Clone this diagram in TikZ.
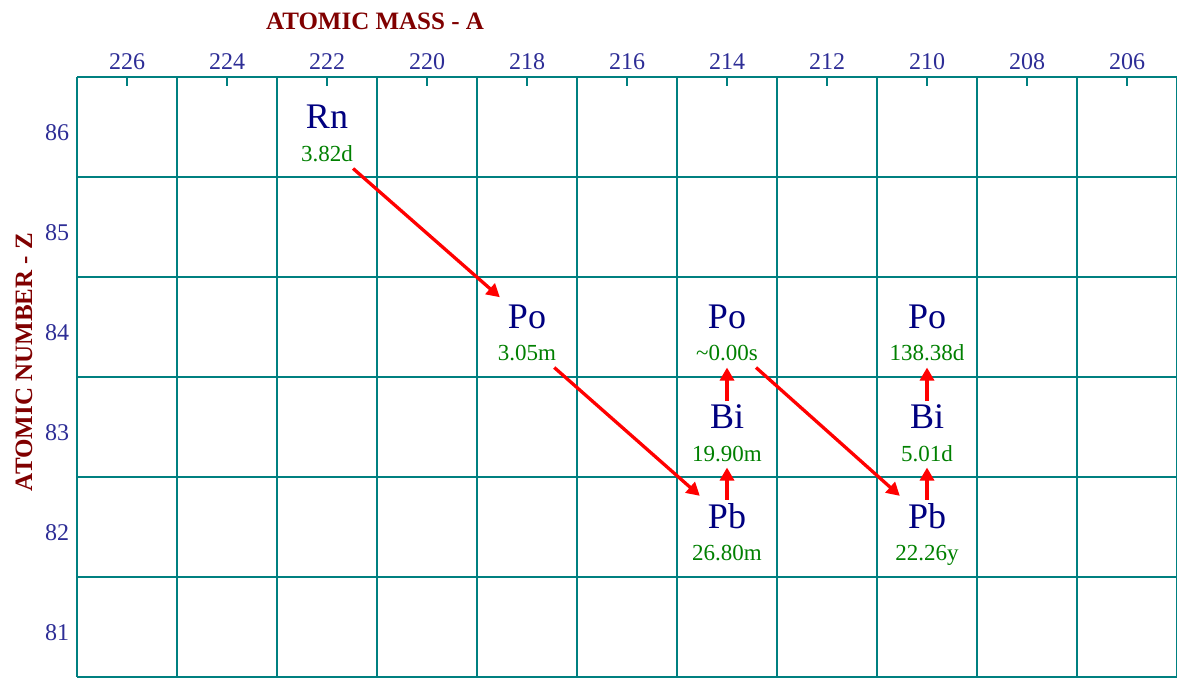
\documentclass[tikz,border=0pt]{standalone}
\usepackage{fontspec}
\setmainfont{Liberation Serif}
\usetikzlibrary{arrows.meta}
\definecolor{gridc}{RGB}{0,128,128}
\definecolor{navyc}{RGB}{0,0,128}
\definecolor{numc}{RGB}{45,45,150}
\definecolor{lifec}{RGB}{0,128,0}
\definecolor{titlec}{RGB}{128,0,0}
\definecolor{arrc}{RGB}{255,0,0}
\begin{document}
\begin{tikzpicture}[x=1pt,y=-1pt,
  gridline/.style={draw=gridc,line width=2pt},
  sym/.style={inner sep=0pt,anchor=base,text=navyc,font=\fontsize{36}{40}\selectfont},
  life/.style={inner sep=0pt,anchor=base,text=lifec,font=\fontsize{23}{26}\selectfont},
  axnum/.style={inner sep=0pt,anchor=base,text=numc,font=\fontsize{24}{28}\selectfont},
  axtitle/.style={inner sep=0pt,anchor=base,text=titlec,font=\bfseries\fontsize{25}{28}\selectfont},
  decay/.style={draw=arrc,line width=3.3pt,-{Triangle[length=13pt,width=14pt]}}]
\fill[white] (0,0) rectangle (1177,677);
\useasboundingbox (0,0) rectangle (1177,677);
% grid
\foreach \x in {77,177,...,1177} \draw[gridline] (\x,77) -- (\x,677);
\foreach \y in {77,177,...,677} \draw[gridline] (77,\y) -- (1177,\y);
\foreach \x in {127,227,...,1127} \draw[gridline] (\x,77) -- (\x,86);
% axis titles
\node[axtitle] (xtitle) at (375,30) {ATOMIC MASS - A};
\node[axtitle,rotate=90] (ytitle) at (32,362) {ATOMIC NUMBER - Z};
% axis numbers
\foreach \m [count=\i from 0] in {226,224,222,220,218,216,214,212,210,208,206}
  \node[axnum] (col\m) at ({127+100*\i},70) {\m};
\foreach \z [count=\i from 0] in {86,85,84,83,82,81}
  \node[axnum] (row\z) at (57,{140+100*\i}) {\z};
% nuclides
\node[sym] (rnS) at (327,128) {Rn};
\node[life] (rnT) at (327,161) {3.82d};
\node[sym] (poaS) at (527,328) {Po};
\node[life] (poaT) at (527,360) {3.05m};
\node[sym] (pobS) at (727,328) {Po};
\node[life] (pobT) at (727,360) {\textasciitilde0.00s};
\node[sym] (biaS) at (727,428) {Bi};
\node[life] (biaT) at (727,461) {19.90m};
\node[sym] (pbaS) at (727,528) {Pb};
\node[life] (pbaT) at (727,560) {26.80m};
\node[sym] (pocS) at (927,328) {Po};
\node[life] (pocT) at (927,360) {138.38d};
\node[sym] (bibS) at (927,428) {Bi};
\node[life] (bibT) at (927,461) {5.01d};
\node[sym] (pbbS) at (927,528) {Pb};
\node[life] (pbbT) at (927,560) {22.26y};
% decays
\draw[decay] ([yshift=-7pt]rnT.south east) -- ([xshift=-8pt,yshift=7pt]poaS.north west);
\draw[decay] ([xshift=-2pt,yshift=-7pt]poaT.south east) -- ([xshift=-8pt,yshift=7pt]pbaS.north west);
\draw[decay] ([xshift=-2pt,yshift=-7pt]pobT.south east) -- ([xshift=-8pt,yshift=7pt]pbbS.north west);
\draw[decay] ([yshift=3pt]biaS.north) -- ([yshift=-7pt]pobT.south);
\draw[decay] ([yshift=3pt]pbaS.north) -- ([yshift=-6pt]biaT.south);
\draw[decay] ([yshift=3pt]bibS.north) -- ([yshift=-7pt]pocT.south);
\draw[decay] ([yshift=3pt]pbbS.north) -- ([yshift=-6pt]bibT.south);
\end{tikzpicture}
\end{document}
